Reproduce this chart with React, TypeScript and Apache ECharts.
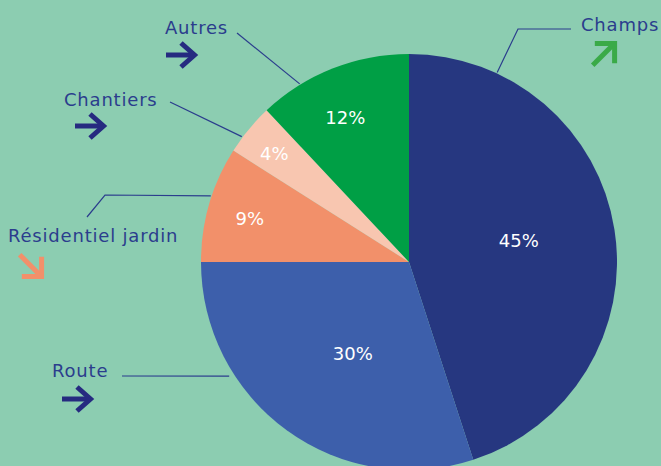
import React, { useEffect, useRef } from 'react';
import * as echarts from 'echarts';

// ---- data ----
const categories = ['Champs', 'Route', 'Résidentiel jardin', 'Chantiers', 'Autres'];
const values = [45, 30, 9, 4, 12];
const sliceColors = ['#263780', '#3d5fab', '#f2906a', '#f8c6b0', '#009f45'];

// ---- layout / styles ----
const W = 661;
const H = 466;
const CX = 409;
const CY = 262;
const R = 208;
const BG = '#8ccdb1';
const NAVY_TEXT = '#2b3d8d';
const NAVY_ARROW = '#262a80';
const GREEN_ARROW = '#3aaa48';
const SALMON_ARROW = '#f2906a';
const FONT = 'DejaVu Sans';

// percent label placement inside each slice: fraction of slice angle, radius
const pctPlacement = [
  { frac: 0.486, r: 112 },
  { frac: 0.46, r: 107 },
  { frac: 0.47, r: 165 },
  { frac: 0.45, r: 173 },
  { frac: 0.45, r: 158 },
];

// name label placement: anchor on slice edge, leader line bends, text position
const namePlacement = [
  { frac: 0.154, r: 209, bends: [[518, 29], [571, 29]], text: [581, 24] },
  { frac: 0.7, r: 213, bends: [[122, 376]], text: [52, 370] },
  { frac: 0.57, r: 209, bends: [[105, 195], [87, 217]], text: [8, 235] },
  { frac: 0.31, r: 209, bends: [[170, 102]], text: [64, 99] },
  { frac: 0.27, r: 209, bends: [[237, 33]], text: [165, 27] },
];

// arrows under labels
const arrowPlacement = [
  { x: 604, y: 54, rot: 45, color: GREEN_ARROW, diag: true },
  { x: 78, y: 399, rot: 0, color: NAVY_ARROW, diag: false },
  { x: 31, y: 266, rot: -45, color: SALMON_ARROW, diag: true },
  { x: 91, y: 126, rot: 0, color: NAVY_ARROW, diag: false },
  { x: 182, y: 55, rot: 0, color: NAVY_ARROW, diag: false },
];

const total = values.reduce((a, b) => a + b, 0);
function pointAt(i: number, frac: number, r: number): [number, number] {
  let cum = 0;
  for (let k = 0; k < i; k++) cum += values[k];
  const a = ((cum + frac * values[i]) / total) * 2 * Math.PI;
  return [CX + r * Math.sin(a), CY - r * Math.cos(a)];
}

function arrow(a: { x: number; y: number; rot: number; color: string; diag: boolean }) {
  const style = { stroke: a.color, lineWidth: 5, fill: 'none', lineCap: 'butt', lineJoin: 'miter' };
  const shaft = a.diag ? [[-16, 0], [14, 0]] : [[-16, 0], [12, 0]];
  const head = a.diag
    ? [[1, -14], [15, 0], [1, 14]]
    : [[-1, -12], [12.5, 0], [-1, 12]];
  return {
    type: 'group',
    x: a.x,
    y: a.y,
    rotation: (a.rot * Math.PI) / 180,
    silent: true,
    children: [
      { type: 'polyline', shape: { points: shaft }, style },
      { type: 'polyline', shape: { points: head }, style },
    ],
  };
}

const css = `.pie-box svg text[fill="${NAVY_TEXT}"] { letter-spacing: 0.8px; }`;

export default function App() {
  const ref = useRef<HTMLDivElement>(null);
  useEffect(() => {
    if (!ref.current) return;
    const chart = echarts.init(ref.current, undefined, { renderer: 'svg' });
    const data = categories.map((name, i) => ({
      name,
      value: values[i],
      itemStyle: { color: sliceColors[i] },
    }));
    chart.setOption({
      animation: false,
      backgroundColor: BG,
      series: [
        {
          type: 'pie',
          center: [CX, CY],
          radius: R,
          startAngle: 90,
          clockwise: true,
          silent: true,
          avoidLabelOverlap: false,
          data,
          label: {
            show: true,
            position: 'inside',
            formatter: '{c}%',
            color: '#ffffff',
            fontFamily: FONT,
            fontSize: 18,
          },
          labelLine: { show: false },
          labelLayout: (p: any) => {
            const pl = pctPlacement[p.dataIndex];
            const [x, y] = pointAt(p.dataIndex, pl.frac, pl.r);
            return { x, y, align: 'center', verticalAlign: 'middle' };
          },
        },
        {
          type: 'pie',
          center: [CX, CY],
          radius: R,
          startAngle: 90,
          clockwise: true,
          silent: true,
          avoidLabelOverlap: false,
          data: categories.map((name, i) => ({ name, value: values[i] })),
          itemStyle: { color: 'rgba(0,0,0,0)' },
          label: {
            show: true,
            position: 'outside',
            formatter: '{b}',
            color: NAVY_TEXT,
            fontFamily: FONT,
            fontSize: 18,
            width: 220,
            overflow: 'none',
          },
          labelLine: {
            show: true,
            lineStyle: { color: NAVY_TEXT, width: 1.2 },
          },
          labelLayout: (p: any) => {
            const pl = namePlacement[p.dataIndex];
            const anchor = pointAt(p.dataIndex, pl.frac, pl.r);
            return {
              x: pl.text[0],
              y: pl.text[1],
              align: 'left',
              verticalAlign: 'middle',
              labelLinePoints: [anchor, ...pl.bends],
            };
          },
        },
      ],
      graphic: arrowPlacement.map(arrow),
    });
    return () => chart.dispose();
  }, []);
  return (
    <>
      <style>{css}</style>
      <div
        ref={ref}
        className="pie-box"
        style={{ position: 'fixed', left: 0, top: 0, width: W, height: H }}
      />
    </>
  );
}
